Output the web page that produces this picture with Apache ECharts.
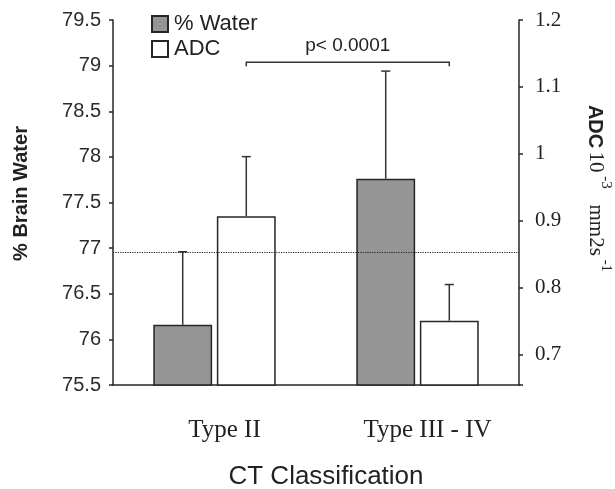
<!DOCTYPE html>
<html>
<head>
<meta charset="utf-8">
<script src="https://cdn.jsdelivr.net/npm/echarts@6/dist/echarts.min.js"></script>
<style>
  html, body { margin: 0; padding: 0; background: #fff; }
  #chart { width: 615px; height: 489px; }
</style>
</head>
<body>
<div id="chart"></div>
<script>
const categories = ['Type II', 'Type III - IV'];
const waterMean = [76.16, 77.76];
const waterUpper = [76.96, 78.94];
const adcMean = [0.907, 0.751];
const adcUpper = [0.996, 0.805];
const refLevel = 76.95;
const pLevel = 1.137;
const pLabel = 'p< 0.0001';

const barPct = 0.29, gapPct = 0.08;
const sans = 'Liberation Sans, Arial, sans-serif';
const serif = 'Liberation Serif, Times New Roman, serif';
const ink = '#262626';

// centre of a bar inside its category band, side -1 = water, +1 = ADC
function barX(api, cat, val, side) {
    let p = api.coord([cat, val]);
    let bw = api.size([1, 0])[0] * barPct;
    return p[0] + side * (bw + bw * gapPct) / 2;
}

function errorSeries(means, uppers, axis, side) {
    return {
        type: 'custom', yAxisIndex: axis, z: 4, silent: true,
        data: means.map((m, i) => [i, m, uppers[i]]),
        renderItem: (params, api) => {
            let cat = api.value(0);
            let x = barX(api, cat, api.value(1), side);
            let y0 = api.coord([cat, api.value(1)])[1];
            let y1 = api.coord([cat, api.value(2)])[1];
            let st = { stroke: '#333', lineWidth: 1.5 };
            return { type: 'group', children: [
                { type: 'line', shape: { x1: x, y1: y0, x2: x, y2: y1 }, style: st },
                { type: 'line', shape: { x1: x - 4.5, y1: y1, x2: x + 4.5, y2: y1 }, style: st }
            ] };
        }
    };
}

let chart = echarts.init(document.getElementById('chart'));
chart.setOption({
    animation: false,
    grid: { left: 113, right: 96, top: 20, bottom: 104, outerBoundsMode: 'none', containLabel: false },
    legend: {
        data: ['% Water', 'ADC'], orient: 'vertical', left: 146, top: 8,
        itemWidth: 16, itemHeight: 16, itemGap: 3, icon: 'rect',
        textStyle: { fontFamily: sans, fontSize: 22, color: '#222', padding: [0, 0, 0, 1] }
    },
    xAxis: {
        type: 'category', data: categories,
        axisLine: { lineStyle: { color: ink, width: 1.5 } },
        axisTick: { show: false },
        axisLabel: { fontFamily: serif, fontSize: 25, color: '#222', margin: 33, padding: [0, 0, 0, 20] },
        name: 'CT Classification', nameLocation: 'middle', nameGap: 79,
        nameTextStyle: { fontFamily: sans, fontSize: 26, color: '#222', padding: [0, 0, 0, 20] }
    },
    yAxis: [{
        type: 'value', min: 75.5, max: 79.5, interval: 0.5,
        splitLine: { show: false },
        axisLine: { show: true, lineStyle: { color: ink, width: 1.5 } },
        axisTick: { show: true, length: 4, lineStyle: { color: ink, width: 1.5 } },
        axisLabel: { fontFamily: sans, fontSize: 20, color: '#2b2b2b', margin: 12 },
        name: '% Brain Water', nameLocation: 'middle', nameGap: 82,
        nameTextStyle: { fontFamily: sans, fontSize: 20, fontWeight: 'bold', color: '#222', padding: [0, 0, 0, 18] }
    }, {
        type: 'value', position: 'right', min: 0.655, max: 1.2, splitNumber: 5,
        splitLine: { show: false },
        axisLine: { show: true, lineStyle: { color: ink, width: 1.5 } },
        axisTick: { show: true, length: 4, lineStyle: { color: ink, width: 1.5 } },
        axisLabel: {
            fontFamily: serif, fontSize: 21, color: '#222', margin: 16,
            formatter: v => {
                let r = Math.round(v * 10) / 10;
                return Math.abs(v - r) < 1e-6 ? String(r) : '';
            }
        },
        name: '{b|ADC} {n|10}{s| -3}{n|   mm2s}{s| -1}',
        nameLocation: 'middle', nameGap: 66, nameRotate: -90,
        nameTextStyle: {
            padding: [0, 28, 0, 0],
            rich: {
                b: { fontFamily: sans, fontSize: 20, fontWeight: 'bold', color: '#222', lineHeight: 28, verticalAlign: 'bottom' },
                n: { fontFamily: serif, fontSize: 21, color: '#222', lineHeight: 28, verticalAlign: 'bottom' },
                s: { fontFamily: serif, fontSize: 15, color: '#222', lineHeight: 15, verticalAlign: 'top' }
            }
        }
    }],
    series: [{
        type: 'line', data: [], z: 1, silent: true,
        markLine: {
            silent: true, symbol: ['none', 'none'], label: { show: false },
            lineStyle: { color: '#222', type: 'dotted', width: 1.2 },
            data: [{ yAxis: refLevel }]
        }
    }, {
        name: '% Water', type: 'bar', yAxisIndex: 0, data: waterMean, z: 3,
        barWidth: (barPct * 100) + '%', barGap: (gapPct * 100) + '%',
        itemStyle: { color: '#959595', borderColor: ink, borderWidth: 1.5 }
    }, {
        name: 'ADC', type: 'bar', yAxisIndex: 1, data: adcMean, z: 3,
        barWidth: (barPct * 100) + '%',
        itemStyle: { color: '#ffffff', borderColor: ink, borderWidth: 1.5 }
    },
    errorSeries(waterMean, waterUpper, 0, -1),
    errorSeries(adcMean, adcUpper, 1, 1),
    {
        type: 'custom', yAxisIndex: 1, z: 4, silent: true,
        data: [[0, 1, pLevel]],
        renderItem: (params, api) => {
            let lv = api.value(2);
            let xa = barX(api, api.value(0), lv, 1);
            let xb = barX(api, api.value(1), lv, 1);
            let y = api.coord([0, lv])[1];
            return { type: 'group', children: [
                { type: 'polyline', shape: { points: [[xa, y + 4], [xa, y], [xb, y], [xb, y + 4]] },
                  style: { stroke: '#333', lineWidth: 1.5, fill: null } },
                { type: 'text', style: { text: pLabel, x: (xa + xb) / 2, y: y - 7,
                  textAlign: 'center', textVerticalAlign: 'bottom',
                  font: '19px ' + sans, fill: '#222' } }
            ] };
        }
    }]
});
</script>
</body>
</html>
